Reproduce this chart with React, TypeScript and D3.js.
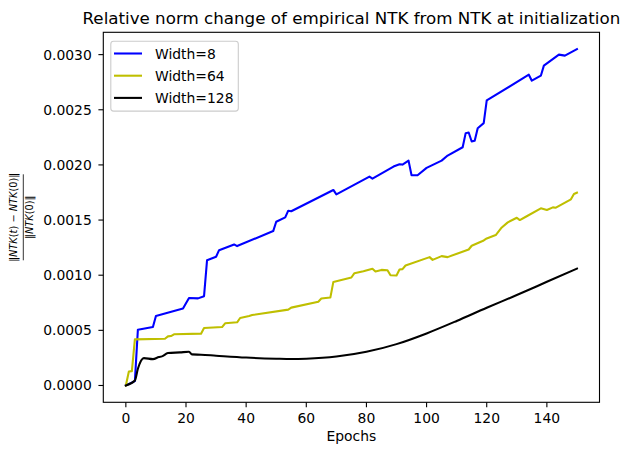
import * as d3 from 'd3';

const blueEpochs = [0, 3, 4, 9, 10, 19, 21, 24, 26, 27, 30, 31, 36, 37, 49, 50, 53, 54, 55, 69, 70, 81, 82, 89, 91, 92, 94, 95, 97, 100, 105, 107, 112, 113, 114, 115, 116, 117, 119, 120, 134, 135, 138, 139, 144, 146, 150];
const blueValues = [0, 0.00004, 0.000506, 0.00053, 0.00063, 0.000697, 0.000794, 0.00079, 0.00081, 0.001136, 0.001167, 0.001227, 0.001279, 0.001264, 0.0014, 0.001485, 0.001524, 0.001585, 0.00158, 0.001773, 0.001733, 0.001894, 0.001876, 0.001985, 0.002006, 0.002003, 0.002039, 0.001906, 0.001906, 0.001973, 0.002039, 0.002085, 0.00216, 0.002288, 0.002294, 0.002212, 0.00222, 0.002333, 0.002379, 0.002585, 0.002818, 0.002764, 0.002809, 0.0029, 0.003, 0.002991, 0.00305];

const yellowEpochs = [0, 1, 2, 3, 13, 14, 15, 16, 25, 26, 32, 33, 37, 38, 41, 42, 54, 55, 64, 65, 68, 69, 75, 76, 79, 82, 83, 85, 87, 88, 90, 91, 92, 93, 101, 102, 105, 107, 114, 115, 119, 120, 123, 125, 127, 130, 131, 133, 138, 140, 142, 143, 148, 149, 150];
const yellowValues = [0, 0.000127, 0.00013, 0.000418, 0.000424, 0.000445, 0.000448, 0.000464, 0.00047, 0.000521, 0.00053, 0.000564, 0.000573, 0.000612, 0.00063, 0.000639, 0.000688, 0.000706, 0.00076, 0.000788, 0.000797, 0.000939, 0.000979, 0.001018, 0.001036, 0.001058, 0.001033, 0.001048, 0.001045, 0.001, 0.000997, 0.001052, 0.001055, 0.001088, 0.001164, 0.001139, 0.001173, 0.001164, 0.001233, 0.001267, 0.001315, 0.001333, 0.001364, 0.001433, 0.001479, 0.001521, 0.0015, 0.00153, 0.001606, 0.001591, 0.001615, 0.001612, 0.001688, 0.001736, 0.001748];

const blackEpochs = [0, 3, 4, 6, 9, 11, 12, 14, 18, 21, 22, 25, 30, 40, 50, 55, 60, 70, 80, 90, 100, 110, 120, 130, 140, 150];
const blackValues = [0, 0.000045, 0.000152, 0.000248, 0.000239, 0.000258, 0.000264, 0.000294, 0.0003, 0.000306, 0.000282, 0.000279, 0.00027, 0.000253, 0.000243, 0.00024, 0.000243, 0.000262, 0.000305, 0.000375, 0.000472, 0.000585, 0.000705, 0.00082, 0.00094, 0.00106];

const xTicks = [0, 20, 40, 60, 80, 100, 120, 140];
const yTicks = [0, 0.0005, 0.001, 0.0015, 0.002, 0.0025, 0.003];

const seriesNames = ['Width=8', 'Width=64', 'Width=128'];
const seriesColors = ['#0000ff', '#bfbf00', '#000000'];

const W = 628;
const H = 455;
const left = 103.3;
const right = 599.5;
const top = 32.3;
const bottom = 402.3;
const font = "'DejaVu Sans', sans-serif";

function App() {
  const x = d3.scaleLinear().domain([-7.5, 157.5]).range([left, right]);
  const y = d3.scaleLinear().domain([-0.0001525, 0.0032025]).range([bottom, top]);

  const series = [
    { e: blueEpochs, v: blueValues, curve: d3.curveLinear },
    { e: yellowEpochs, v: yellowValues, curve: d3.curveLinear },
    { e: blackEpochs, v: blackValues, curve: d3.curveMonotoneX },
  ];

  const paths = series.map((s) =>
    d3
      .line<number>()
      .x((_, i) => x(s.e[i]))
      .y((d) => y(d))
      .curve(s.curve)(s.v) ?? ''
  );

  const cx = (left + right) / 2;
  const cy = (top + bottom) / 2;

  return (
    <svg width={W} height={H} style={{ position: 'absolute', left: 0, top: 0, background: '#fff' }} fontFamily={font}>
      <rect width={W} height={H} fill="#fff" />
      <defs>
        <clipPath id="plot">
          <rect x={left} y={top} width={right - left} height={bottom - top} />
        </clipPath>
      </defs>
      <g clipPath="url(#plot)">
        {paths.map((p, i) => (
          <path key={i} d={p} fill="none" stroke={seriesColors[i]} strokeWidth={2.08} strokeLinejoin="round" strokeLinecap="square" />
        ))}
      </g>
      <rect x={left} y={top} width={right - left} height={bottom - top} fill="none" stroke="#000" strokeWidth={1.1} />
      {xTicks.map((t) => (
        <g key={t} transform={`translate(${x(t)},${bottom})`}>
          <line y2={4.9} stroke="#000" strokeWidth={1.1} />
          <text y={21} textAnchor="middle" fontSize={13.9} fill="#000">{t}</text>
        </g>
      ))}
      {yTicks.map((t) => (
        <g key={t} transform={`translate(${left},${y(t)})`}>
          <line x2={-4.9} stroke="#000" strokeWidth={1.1} />
          <text x={-11.5} y={5} textAnchor="end" fontSize={13.9} fill="#000">{t.toFixed(4)}</text>
        </g>
      ))}
      <text x={cx} y={441} textAnchor="middle" fontSize={13.9} fill="#000">Epochs</text>
      <text x={cx} y={24} textAnchor="middle" fontSize={16.7} fill="#000">Relative norm change of empirical NTK from NTK at initialization</text>
      <g transform={`translate(23.3,${cy}) rotate(-90)`} fontSize={9.8} fill="#000">
        <text y={-6} textAnchor="middle">
          ‖<tspan fontStyle="italic">NTK</tspan>(<tspan fontStyle="italic">t</tspan>) − <tspan fontStyle="italic">NTK</tspan>(0)‖
        </text>
        <line x1={-43} x2={43} y1={0} y2={0} stroke="#000" strokeWidth={0.8} />
        <text y={9.5} textAnchor="middle">
          ‖<tspan fontStyle="italic">NTK</tspan>(0)‖
        </text>
      </g>
      <g>
        <rect x={110.8} y={41.2} width={127.5} height={69.9} rx={2.8} fill="#fff" fillOpacity={0.8} stroke="#cccccc" strokeWidth={1.1} />
        {seriesNames.map((n, i) => {
          const ly = 53.5 + i * 22.2;
          return (
            <g key={n}>
              <line x1={114} x2={142} y1={ly} y2={ly} stroke={seriesColors[i]} strokeWidth={2.08} />
              <text x={155} y={ly + 5} fontSize={13.9} fill="#000">{n}</text>
            </g>
          );
        })}
      </g>
    </svg>
  );
}

export default App;
